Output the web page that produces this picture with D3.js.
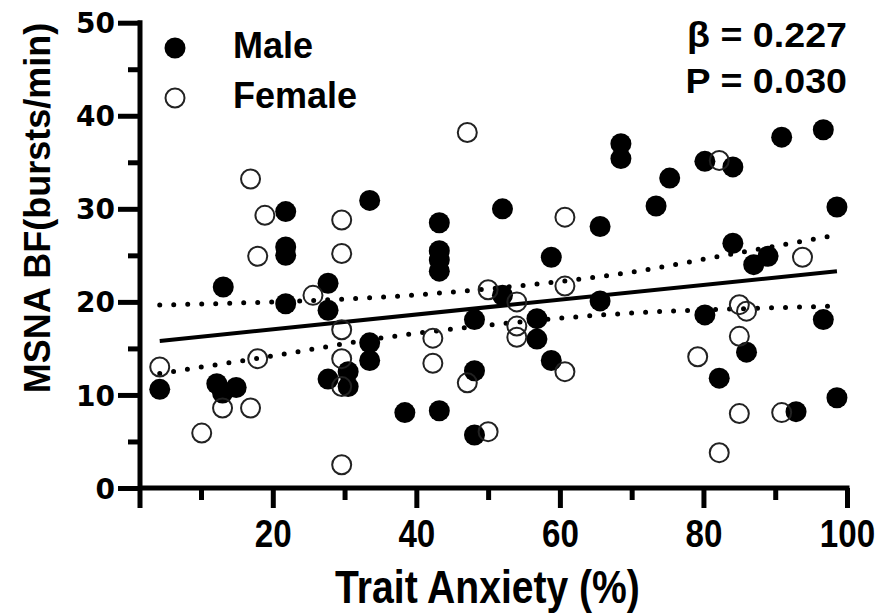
<!DOCTYPE html>
<html>
<head>
<meta charset="utf-8">
<script src="https://cdn.jsdelivr.net/npm/d3@7"></script>
<style type="text/css">
    body {
        margin: 0;
        background: white;
    }
    .axis path {
        display: none;
    }
    .axis line,
    .axisline {
        stroke: black;
        stroke-width: 5;
    }
    .label {
        font-family: "Liberation Sans", Arial, sans-serif;
        font-weight: bold;
        fill: black;
    }
</style>
</head>
<body>
<script>

// male points [trait anxiety %, MSNA BF]
var malePoints = [
    [4.25, 10.6], [12.2, 11.2], [13.0, 10.2], [13.1, 21.6], [14.9, 10.8],
    [21.8, 29.7], [21.8, 25.9], [21.8, 25.0], [21.8, 19.8], [27.7, 22.0],
    [27.7, 19.1], [27.7, 11.7], [30.5, 12.5], [30.5, 10.9], [33.5, 30.9],
    [33.5, 15.6], [33.5, 13.7], [38.4, 8.1], [43.2, 28.5], [43.2, 25.5],
    [43.2, 24.5], [43.2, 23.3], [43.2, 8.3], [48.1, 18.1], [48.1, 12.6],
    [48.1, 5.7], [52.0, 30.0], [52.0, 20.7], [56.8, 18.2], [56.8, 16.0],
    [58.8, 24.8], [58.8, 13.7], [65.6, 28.1], [65.6, 20.1], [68.5, 37.0],
    [68.5, 35.4], [73.4, 30.3], [75.3, 33.3], [80.2, 35.1], [80.2, 18.6],
    [82.2, 11.8], [84.1, 34.5], [84.1, 26.3], [86.0, 14.6], [87.0, 24.0],
    [89.0, 24.9], [90.9, 37.7], [92.9, 8.2], [96.7, 38.5], [96.7, 18.1],
    [98.6, 30.2], [98.6, 9.7]
];

// female points
var femalePoints = [
    [4.25, 13.0], [10.1, 5.9], [13.0, 8.6], [16.9, 33.2], [16.9, 8.6],
    [17.9, 24.9], [17.9, 13.9], [18.9, 29.3], [25.6, 20.7], [29.6, 28.8],
    [29.6, 25.2], [29.6, 17.0], [29.6, 13.9], [29.6, 10.9], [29.6, 2.5],
    [42.3, 16.1], [42.3, 13.4], [47.1, 38.2], [47.1, 11.3], [50.0, 21.3],
    [50.0, 6.05], [54.0, 20.0], [54.0, 17.4], [54.0, 16.2], [60.7, 29.1],
    [60.7, 21.7], [60.7, 12.5], [79.2, 14.1], [82.2, 35.2], [82.2, 3.8],
    [85.0, 19.7], [85.0, 16.3], [85.0, 8.0], [86.0, 19.0], [90.9, 8.1],
    [93.8, 24.8]
];

// regression line and its confidence band
var fitLine = [[4.25, 15.8], [98.6, 23.3]];
var upperBand = [[4.25, 19.66], [20, 20.0], [35, 20.5], [50, 21.4], [70, 23.2], [85, 25.3], [98.6, 27.2]];
var lowerBand = [[4.25, 12.3], [20, 14.2], [35, 16.1], [50, 17.5], [70, 18.8], [85, 19.26], [98.6, 19.55]];

// ticks
var xMajor = [20, 40, 60, 80, 100];
var xMinor = [10, 30, 50, 70, 90];
var yMajor = [0, 10, 20, 30, 40, 50];
var yMinor = [5, 15, 25, 35, 45];

var statLines = ["\u03b2 = 0.227", "P = 0.030"];
var legendNames = ["Male", "Female"];

var width = 894, height = 615;

var xScale = d3.scaleLinear().domain([1.5, 100]).range([140, 847]);
var yScale = d3.scaleLinear().domain([0, 50]).range([488, 22.7]);

var svg = d3.select("body")
    .append("svg")
    .attr("width", width)
    .attr("height", height);

// x axis
var xg = svg.append("g")
    .attr("class", "axis")
    .attr("transform", "translate(0," + yScale(0) + ")");

xg.append("g")
    .call(d3.axisBottom(xScale).tickValues(xMinor).tickSize(12).tickSizeOuter(0).tickFormat(""));

var xMajorG = xg.append("g")
    .call(d3.axisBottom(xScale).tickValues(xMajor).tickSize(20).tickSizeOuter(0));

xMajorG.selectAll("text")
    .attr("class", "label")
    .attr("y", 0)
    .attr("dy", null)
    .attr("transform", "translate(0,59) scale(0.85,1)")
    .style("font-size", "39px");
xMajorG.attr("font-size", null).attr("font-family", null);

// y axis
var yg = svg.append("g")
    .attr("class", "axis")
    .attr("transform", "translate(" + xScale(1.5) + ",0)");

yg.append("g")
    .call(d3.axisLeft(yScale).tickValues(yMinor).tickSize(12).tickSizeOuter(0).tickFormat(""));

var yMajorG = yg.append("g")
    .call(d3.axisLeft(yScale).tickValues(yMajor).tickSize(22).tickSizeOuter(0));

yMajorG.selectAll("text")
    .attr("class", "label")
    .attr("x", -25)
    .attr("dy", "0.36em")
    .style("font-family", "'DejaVu Sans', sans-serif")
    .style("font-size", "28px");
yMajorG.attr("font-size", null).attr("font-family", null);

// axis lines
svg.append("line")
    .attr("class", "axisline")
    .attr("x1", xScale(1.5))
    .attr("x2", xScale(100) + 2.5)
    .attr("y1", yScale(0))
    .attr("y2", yScale(0));

svg.append("line")
    .attr("class", "axisline")
    .attr("x1", xScale(1.5))
    .attr("x2", xScale(1.5))
    .attr("y1", yScale(50) - 2.5)
    .attr("y2", yScale(0) + 20);

// axis titles
svg.append("g")
    .attr("transform", "translate(487.5,603) scale(0.85,1)")
    .append("text")
    .attr("class", "label")
    .attr("text-anchor", "middle")
    .style("font-size", "46px")
    .text("Trait Anxiety (%)");

svg.append("text")
    .attr("class", "label")
    .attr("transform", "translate(50,208) rotate(-90)")
    .attr("text-anchor", "middle")
    .style("font-size", "36px")
    .text("MSNA BF(bursts/min)");

// regression + confidence band
var line = d3.line()
    .x(function(d) { return xScale(d[0]); })
    .y(function(d) { return yScale(d[1]); });

var bandLine = d3.line()
    .curve(d3.curveMonotoneX)
    .x(function(d) { return xScale(d[0]); })
    .y(function(d) { return yScale(d[1]); });

[upperBand, lowerBand].forEach(function(band) {
    svg.append("path")
        .attr("d", bandLine(band))
        .attr("fill", "none")
        .attr("stroke", "black")
        .attr("stroke-width", 5)
        .attr("stroke-linecap", "round")
        .attr("stroke-dasharray", "0,14");
});

svg.append("path")
    .attr("d", line(fitLine))
    .attr("fill", "none")
    .attr("stroke", "black")
    .attr("stroke-width", 4);

// points
svg.selectAll("circle.male")
    .data(malePoints)
    .enter().append("circle")
    .attr("class", "male")
    .attr("cx", function(d) { return xScale(d[0]); })
    .attr("cy", function(d) { return yScale(d[1]); })
    .attr("r", 10.5)
    .attr("fill", "black");

svg.selectAll("circle.female")
    .data(femalePoints)
    .enter().append("circle")
    .attr("class", "female")
    .attr("cx", function(d) { return xScale(d[0]); })
    .attr("cy", function(d) { return yScale(d[1]); })
    .attr("r", 9.5)
    .attr("fill", "none")
    .attr("stroke", "#222")
    .attr("stroke-width", 2);

// legend
var legend = svg.selectAll("g.legend")
    .data(legendNames)
    .enter().append("g")
    .attr("class", "legend")
    .attr("transform", function(d, i) { return "translate(175," + (48 + i * 50) + ")"; });

legend.append("circle")
    .attr("r", function(d, i) { return i == 0 ? 10.5 : 9.5; })
    .attr("fill", function(d, i) { return i == 0 ? "black" : "none"; })
    .attr("stroke", function(d, i) { return i == 0 ? "none" : "#222"; })
    .attr("stroke-width", 2);

legend.append("text")
    .attr("class", "label")
    .attr("x", 58)
    .attr("y", 10)
    .style("font-size", "36px")
    .text(function(d) { return d; });

// stats
svg.selectAll("g.stat")
    .data(statLines)
    .enter().append("g")
    .attr("class", "stat")
    .attr("transform", function(d, i) { return "translate(847," + (47 + i * 46) + ") scale(1.075,1)"; })
    .append("text")
    .attr("class", "label")
    .attr("text-anchor", "end")
    .style("font-size", "35px")
    .text(function(d) { return d; });

</script>
</body>
</html>
